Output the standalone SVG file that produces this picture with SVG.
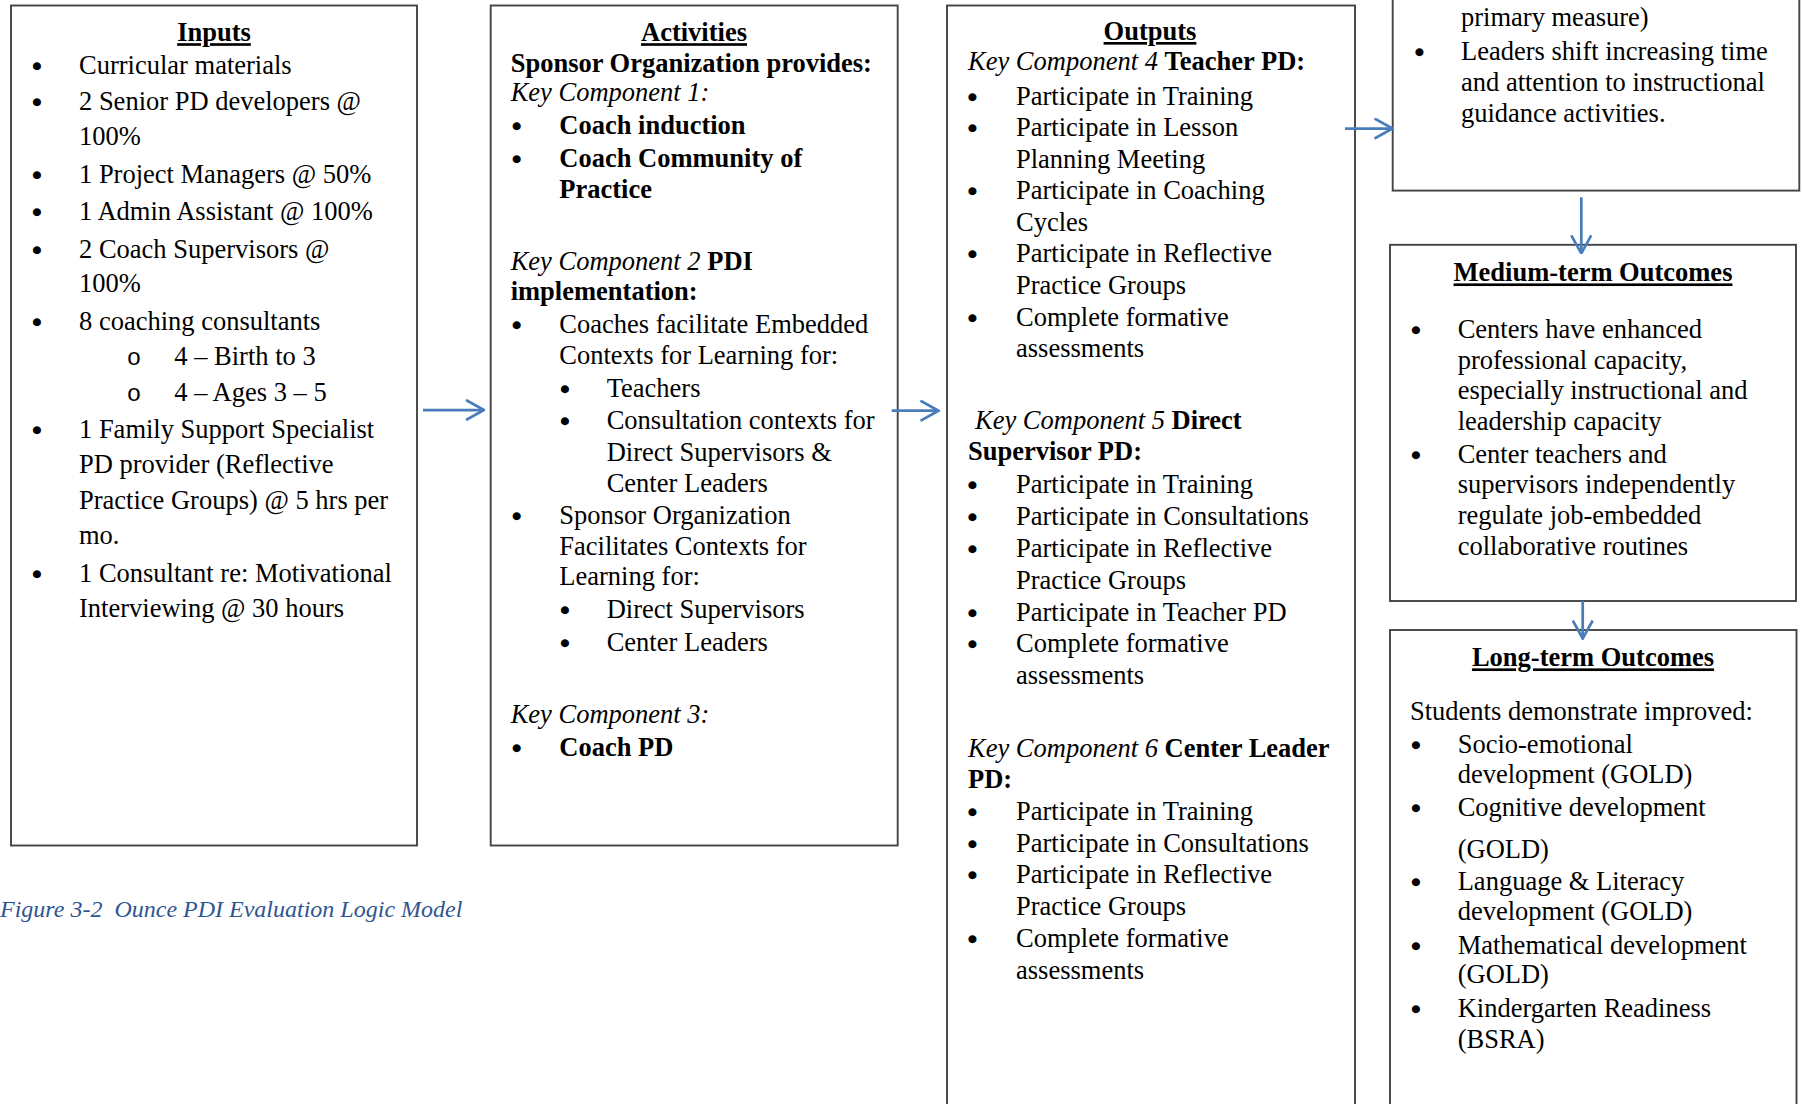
<svg xmlns="http://www.w3.org/2000/svg" width="1802" height="1104" viewBox="0 0 1802 1104">
  <style>
    text { font-family: "Liberation Serif", "Times New Roman", serif; font-size: 26.5px; fill: #000; }
    .b { font-weight: bold; }
    .i { font-style: italic; }
    .h { font-weight: bold; text-decoration: underline; text-anchor: middle; }
    .dot { font-size: 28px; text-anchor: middle; stroke: #000; stroke-width: 1.4; }
    .sub { font-family: "Liberation Mono", "Courier New", monospace; font-size: 24px; text-anchor: middle; }
    .box { fill: #fff; stroke: #444; stroke-width: 1.9; }
    .arrow { fill: none; stroke: #4A7EBB; stroke-width: 2.75; marker-end: url(#head); }
    .caption { font-style: italic; font-size: 24px; fill: #2F5592; }
  </style>
  <defs>
    <marker id="head" viewBox="0 0 20 22" refX="19" refY="11" markerWidth="20" markerHeight="22" markerUnits="userSpaceOnUse" orient="auto">
      <path d="M1,1 L19,11 L1,21" fill="none" stroke="#4A7EBB" stroke-width="2.75"/>
    </marker>
  </defs>
  <rect width="1802" height="1104" fill="#fff"/>

  <!-- Inputs -->
  <g id="inputs">
    <rect class="box" x="11" y="5.5" width="406" height="840"/>
    <text class="h" x="214" y="41.2">Inputs</text>
    <text class="dot" x="37" y="75.5">•</text><text x="79" y="73.5">Curricular materials</text>
    <text class="dot" x="37" y="112.2">•</text><text x="79" y="110.2">2 Senior PD developers @</text>
    <text x="79" y="145">100%</text>
    <text class="dot" x="37" y="184.8">•</text><text x="79" y="182.8">1 Project Managers @ 50%</text>
    <text class="dot" x="37" y="221.5">•</text><text x="79" y="219.5">1 Admin Assistant @ 100%</text>
    <text class="dot" x="37" y="260">•</text><text x="79" y="258">2 Coach Supervisors @</text>
    <text x="79" y="292.4">100%</text>
    <text class="dot" x="37" y="331.8">•</text><text x="79" y="329.8">8 coaching consultants</text>
    <text class="sub" x="134" y="364.9">o</text><text x="174.3" y="364.9">4 – Birth to 3</text>
    <text class="sub" x="134" y="401">o</text><text x="174.3" y="401">4 – Ages 3 – 5</text>
    <text class="dot" x="37" y="439.8">•</text><text x="79" y="437.8">1 Family Support Specialist</text>
    <text x="79" y="473.2">PD provider (Reflective</text>
    <text x="79" y="508.7">Practice Groups) @ 5 hrs per</text>
    <text x="79" y="544.3">mo.</text>
    <text class="dot" x="37" y="584">•</text><text x="79" y="582">1 Consultant re: Motivational</text>
    <text x="79" y="616.5">Interviewing @ 30 hours</text>
  </g>

  <!-- Activities -->
  <g id="activities">
    <rect class="box" x="490.7" y="5.5" width="407" height="840"/>
    <text class="h" x="694" y="41.2">Activities</text>
    <text class="b" x="510.7" y="71.5">Sponsor Organization provides:</text>
    <text class="i" x="510.7" y="100.9">Key Component 1:</text>
    <text class="dot" x="516.7" y="136.3">•</text><text class="b" x="559.3" y="134.3">Coach induction</text>
    <text class="dot" x="516.7" y="168.7">•</text><text class="b" x="559.3" y="166.7">Coach Community of</text>
    <text class="b" x="559.3" y="198.4">Practice</text>
    <text x="510.7" y="269.6"><tspan class="i">Key Component 2</tspan> <tspan class="b">PDI</tspan></text>
    <text class="b" x="510.7" y="299.7">implementation:</text>
    <text class="dot" x="516.7" y="335.2">•</text><text x="559.3" y="333.2">Coaches facilitate Embedded</text>
    <text x="559.3" y="364.3">Contexts for Learning for:</text>
    <text class="dot" x="565" y="398.7">•</text><text x="606.7" y="396.7">Teachers</text>
    <text class="dot" x="565" y="431.1">•</text><text x="606.7" y="429.1">Consultation contexts for</text>
    <text x="606.7" y="460.8">Direct Supervisors &amp;</text>
    <text x="606.7" y="491.9">Center Leaders</text>
    <text class="dot" x="516.7" y="525.7">•</text><text x="559.3" y="523.7">Sponsor Organization</text>
    <text x="559.3" y="554.8">Facilitates Contexts for</text>
    <text x="559.3" y="584.9">Learning for:</text>
    <text class="dot" x="565" y="620.3">•</text><text x="606.7" y="618.3">Direct Supervisors</text>
    <text class="dot" x="565" y="652.6">•</text><text x="606.7" y="650.6">Center Leaders</text>
    <text class="i" x="510.7" y="723.2">Key Component 3:</text>
    <text class="dot" x="516.7" y="757.9">•</text><text class="b" x="559.3" y="755.9">Coach PD</text>
  </g>

  <!-- Outputs -->
  <g id="outputs">
    <rect class="box" x="947" y="5.5" width="408" height="1110"/>
    <text class="h" x="1150" y="40">Outputs</text>
    <text x="968" y="70.4"><tspan class="i">Key Component 4</tspan> <tspan class="b">Teacher PD:</tspan></text>
    <text class="dot" x="972.5" y="106.5">•</text><text x="1016" y="104.5">Participate in Training</text>
    <text class="dot" x="972.5" y="138.1">•</text><text x="1016" y="136.1">Participate in Lesson</text>
    <text x="1016" y="167.7">Planning Meeting</text>
    <text class="dot" x="972.5" y="201.2">•</text><text x="1016" y="199.2">Participate in Coaching</text>
    <text x="1016" y="230.8">Cycles</text>
    <text class="dot" x="972.5" y="264.4">•</text><text x="1016" y="262.4">Participate in Reflective</text>
    <text x="1016" y="294">Practice Groups</text>
    <text class="dot" x="972.5" y="327.6">•</text><text x="1016" y="325.6">Complete formative</text>
    <text x="1016" y="357.2">assessments</text>
    <text x="975" y="428.6"><tspan class="i">Key Component 5</tspan> <tspan class="b">Direct</tspan></text>
    <text class="b" x="968" y="459.8">Supervisor PD:</text>
    <text class="dot" x="972.5" y="494.9">•</text><text x="1016" y="492.9">Participate in Training</text>
    <text class="dot" x="972.5" y="526.8">•</text><text x="1016" y="524.8">Participate in Consultations</text>
    <text class="dot" x="972.5" y="558.7">•</text><text x="1016" y="556.7">Participate in Reflective</text>
    <text x="1016" y="588.6">Practice Groups</text>
    <text class="dot" x="972.5" y="622.5">•</text><text x="1016" y="620.5">Participate in Teacher PD</text>
    <text class="dot" x="972.5" y="654.4">•</text><text x="1016" y="652.4">Complete formative</text>
    <text x="1016" y="684.2">assessments</text>
    <text x="968" y="756.6"><tspan class="i">Key Component 6</tspan> <tspan class="b">Center Leader</tspan></text>
    <text class="b" x="968" y="788">PD:</text>
    <text class="dot" x="972.5" y="821.8">•</text><text x="1016" y="819.8">Participate in Training</text>
    <text class="dot" x="972.5" y="853.6">•</text><text x="1016" y="851.6">Participate in Consultations</text>
    <text class="dot" x="972.5" y="885.4">•</text><text x="1016" y="883.4">Participate in Reflective</text>
    <text x="1016" y="915.2">Practice Groups</text>
    <text class="dot" x="972.5" y="948.9">•</text><text x="1016" y="946.9">Complete formative</text>
    <text x="1016" y="978.7">assessments</text>
  </g>

  <!-- Short-term outcomes (upper part runs off the top edge) -->
  <g id="short-term">
    <rect class="box" x="1392.7" y="-20" width="406.6" height="210.6"/>
    <text x="1461" y="26.4">primary measure)</text>
    <text class="dot" x="1419.3" y="62">•</text><text x="1461" y="60">Leaders shift increasing time</text>
    <text x="1461" y="91">and attention to instructional</text>
    <text x="1461" y="121.5">guidance activities.</text>
  </g>

  <!-- Medium-term outcomes -->
  <g id="medium-term">
    <rect class="box" x="1390" y="244.8" width="406" height="356.2"/>
    <text class="h" x="1593" y="281.4">Medium-term Outcomes</text>
    <text class="dot" x="1416" y="339.5">•</text><text x="1457.7" y="337.5">Centers have enhanced</text>
    <text x="1457.7" y="368.6">professional capacity,</text>
    <text x="1457.7" y="399.1">especially instructional and</text>
    <text x="1457.7" y="429.6">leadership capacity</text>
    <text class="dot" x="1416" y="464.5">•</text><text x="1457.7" y="462.5">Center teachers and</text>
    <text x="1457.7" y="493.4">supervisors independently</text>
    <text x="1457.7" y="524">regulate job-embedded</text>
    <text x="1457.7" y="554.5">collaborative routines</text>
  </g>

  <!-- Long-term outcomes -->
  <g id="long-term">
    <rect class="box" x="1390" y="630" width="406.5" height="500"/>
    <text class="h" x="1593" y="666.4">Long-term Outcomes</text>
    <text x="1410" y="719.8">Students demonstrate improved:</text>
    <text class="dot" x="1416" y="755.3">•</text><text x="1457.7" y="753.3">Socio-emotional</text>
    <text x="1457.7" y="782.7">development (GOLD)</text>
    <text class="dot" x="1416" y="818.1">•</text><text x="1457.7" y="816.1">Cognitive development</text>
    <text x="1457.7" y="857.9">(GOLD)</text>
    <text class="dot" x="1416" y="892.3">•</text><text x="1457.7" y="890.3">Language &amp; Literacy</text>
    <text x="1457.7" y="919.8">development (GOLD)</text>
    <text class="dot" x="1416" y="955.9">•</text><text x="1457.7" y="953.9">Mathematical development</text>
    <text x="1457.7" y="983.2">(GOLD)</text>
    <text class="dot" x="1416" y="1018.6">•</text><text x="1457.7" y="1016.6">Kindergarten Readiness</text>
    <text x="1457.7" y="1048.4">(BSRA)</text>
  </g>

  <!-- Flow arrows between stages -->
  <g id="connectors">
    <line class="arrow" x1="423" y1="410" x2="484" y2="410"/>
    <line class="arrow" x1="891.7" y1="410.7" x2="938.5" y2="410.7"/>
    <line class="arrow" x1="1345" y1="128.5" x2="1392.5" y2="128.5"/>
    <line class="arrow" x1="1581.3" y1="197.3" x2="1581.3" y2="253.3"/>
    <line class="arrow" x1="1582.7" y1="601" x2="1582.7" y2="638.5"/>
  </g>

  <text class="caption" x="0" y="916.5" xml:space="preserve">Figure 3-2  Ounce PDI Evaluation Logic Model</text>
</svg>
